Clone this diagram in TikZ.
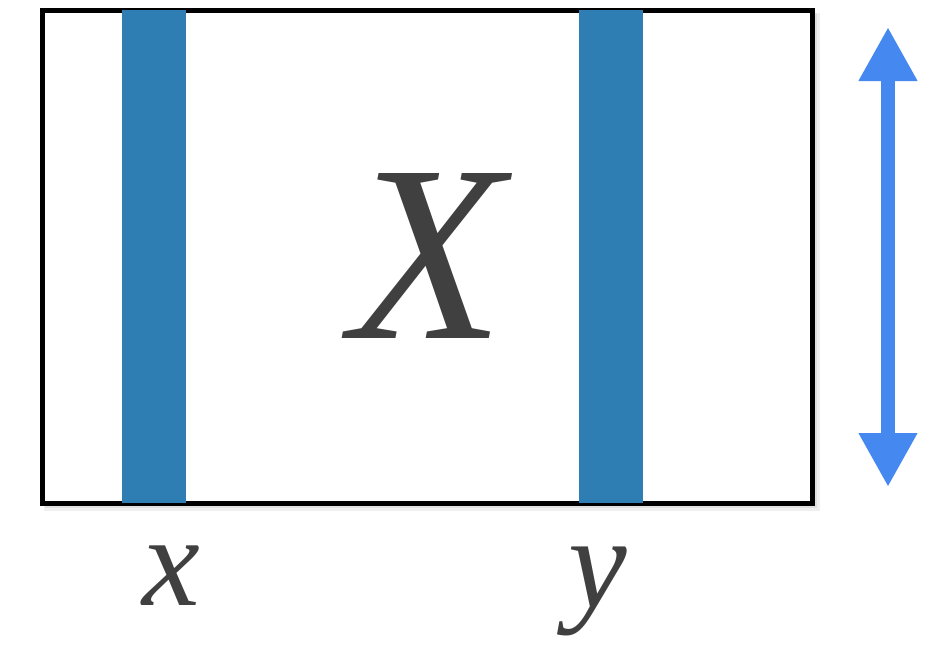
\documentclass[tikz,border=0pt]{standalone}
\usepackage{fontspec}
\setmainfont{Liberation Serif}
\usetikzlibrary{arrows.meta}
\definecolor{barblue}{HTML}{2E7EB4}
\definecolor{arrowblue}{HTML}{4588F0}
\definecolor{textgray}{HTML}{404040}
\tikzset{
  bar/.style={fill=barblue, draw=none, minimum width=64pt, minimum height=493pt, inner sep=0pt, anchor=north west},
  frame/.style={draw=black, line width=5pt},
  lbl/.style={text=textgray, inner sep=0pt, anchor=base},
  vecarrow/.style={draw=arrowblue, line width=13.5pt, {Triangle[length=54pt,width=55pt]}-{Triangle[length=54pt,width=55pt]}}
}
\begin{document}
\begin{tikzpicture}[x=1pt,y=-1pt]
\useasboundingbox (0,0) rectangle (934,645);
% soft shadow
\fill[black!6] (44,13) rectangle (820,511);
\fill[black!12] (45,14) rectangle (817,508);
\fill[white] (42.5,10.5) rectangle (812.5,503);
\draw[frame] (42.5,10.5) rectangle (812.5,503);
\node[bar] (bx) at (122,10) {};
\node[bar] (by) at (579,10) {};
\node[lbl, font=\fontsize{252}{252}\selectfont\itshape] (X) at (427,338) {X};
\node[lbl, font=\fontsize{130}{130}\selectfont\itshape] (lx) at (171,605) {x};
\node[lbl, font=\fontsize{132}{132}\selectfont\itshape] (ly) at (598,607) {y};
\coordinate (atop) at (888,27);
\coordinate (abot) at (888,487);
\draw[vecarrow] (atop) -- (abot);
\end{tikzpicture}
\end{document}
